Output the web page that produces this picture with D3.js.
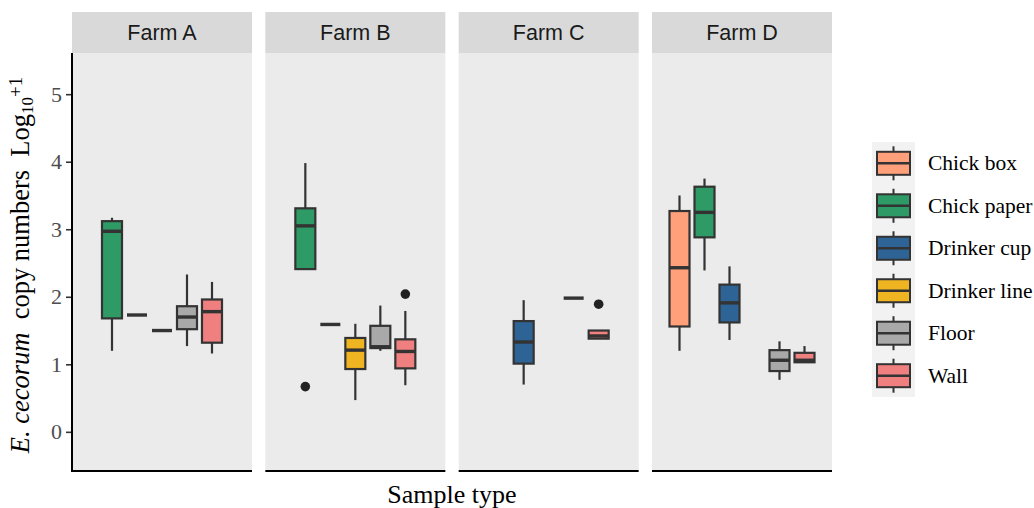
<!DOCTYPE html>
<html>
<head>
<meta charset="utf-8">
<script src="https://cdn.jsdelivr.net/npm/d3@7"></script>
<style>
  body { margin: 0; background: #fff; }
</style>
</head>
<body>
<div id="chart"></div>
<script>
var w = 1034;
var h = 508;

// facets and sample types
const farms = ["Farm A", "Farm B", "Farm C", "Farm D"];
const sampleTypes = ["Chick box", "Chick paper", "Drinker cup", "Drinker line", "Floor", "Wall"];
const typeColours = ["#FFA07A", "#2E9B66", "#2D6495", "#EEB422", "#A9A9A9", "#F08080"];

// dodge slots present in each farm
const slotsA = ["Chick paper", "Drinker cup", "Drinker line", "Floor", "Wall"];
const slotsB = ["Chick paper", "Drinker cup", "Drinker line", "Floor", "Wall"];
const slotsC = ["Chick paper", "Drinker cup", "Drinker line", "Floor", "Wall"];
const slotsD = ["Chick box", "Chick paper", "Drinker cup", "Drinker line", "Floor", "Wall"];

// box stats: [type, lower whisker, q1, median, q3, upper whisker]
const farmA = [
    ["Chick paper", 1.20, 1.68, 2.97, 3.12, 3.17],
    ["Drinker cup", 1.73, 1.73, 1.73, 1.73, 1.73],
    ["Drinker line", 1.50, 1.50, 1.50, 1.50, 1.50],
    ["Floor", 1.27, 1.52, 1.70, 1.86, 2.33],
    ["Wall", 1.16, 1.32, 1.78, 1.96, 2.22]
];
const farmB = [
    ["Chick paper", 2.41, 2.41, 3.05, 3.31, 3.98],
    ["Drinker cup", 1.59, 1.59, 1.59, 1.59, 1.59],
    ["Drinker line", 0.47, 0.93, 1.21, 1.39, 1.60],
    ["Floor", 1.20, 1.24, 1.26, 1.57, 1.87],
    ["Wall", 0.69, 0.94, 1.19, 1.37, 1.79]
];
const farmC = [
    ["Drinker cup", 0.70, 1.01, 1.33, 1.64, 1.95],
    ["Floor", 1.98, 1.98, 1.98, 1.98, 1.98],
    ["Wall", 1.38, 1.38, 1.42, 1.50, 1.50]
];
const farmD = [
    ["Chick box", 1.20, 1.56, 2.43, 3.27, 3.50],
    ["Chick paper", 2.39, 2.88, 3.25, 3.63, 3.75],
    ["Drinker cup", 1.36, 1.62, 1.91, 2.18, 2.45],
    ["Floor", 0.77, 0.90, 1.06, 1.21, 1.34],
    ["Wall", 1.03, 1.03, 1.06, 1.17, 1.27]
];

// outliers: [farm, type, value]
const outliers = [
    ["Farm B", "Chick paper", 0.67],
    ["Farm B", "Wall", 2.04],
    ["Farm C", "Wall", 1.89]
];

const yTicks = [0, 1, 2, 3, 4, 5];

const farmStats = { "Farm A": farmA, "Farm B": farmB, "Farm C": farmC, "Farm D": farmD };
const farmSlots = { "Farm A": slotsA, "Farm B": slotsB, "Farm C": slotsC, "Farm D": slotsD };

const colour = d3.scaleOrdinal().domain(sampleTypes).range(typeColours);

const svg = d3.select("#chart").append("svg").attr("width", w).attr("height", h);

const serif = "Liberation Serif, Times New Roman, serif";
const panelTop = 53, panelBottom = 471;
const stripTop = 12;

const xPanel = d3.scaleBand()
    .domain(farms)
    .range([72, 832])
    .paddingInner(0.069);

const y = d3.scaleLinear()
    .domain([-0.58, 5.61])
    .range([panelBottom, panelTop]);

const boxW = 20;
const slotStep = 25;
const dark = "#333333";

farms.forEach(farm => {
    const x0 = xPanel(farm);
    const bw = xPanel.bandwidth();
    const cx = x0 + bw / 2;
    const slots = farmSlots[farm];
    const n = slots.length;
    const xs = d3.scalePoint()
        .domain(slots)
        .range([cx - (n - 1) * slotStep / 2, cx + (n - 1) * slotStep / 2]);

    const g = svg.append("g").attr("class", "panel");

    // strip
    g.append("rect")
        .attr("x", x0).attr("y", stripTop)
        .attr("width", bw).attr("height", panelTop - stripTop)
        .attr("fill", "#D9D9D9");
    g.append("text")
        .attr("x", cx).attr("y", (stripTop + panelTop) / 2)
        .attr("dy", "0.36em")
        .attr("text-anchor", "middle")
        .style("font-family", "Liberation Sans, Arial, sans-serif")
        .style("font-size", "21.5px")
        .attr("fill", "#1A1A1A")
        .text(farm);

    // panel background
    g.append("rect")
        .attr("x", x0).attr("y", panelTop)
        .attr("width", bw).attr("height", panelBottom - panelTop)
        .attr("fill", "#EBEBEB");

    // boxes
    const boxes = g.selectAll("g.box")
        .data(farmStats[farm])
        .enter()
        .append("g")
        .classed("box", true);

    boxes.append("line")
        .attr("x1", d => xs(d[0])).attr("x2", d => xs(d[0]))
        .attr("y1", d => y(d[5])).attr("y2", d => y(d[4]))
        .attr("stroke", dark).attr("stroke-width", 2.2);
    boxes.append("line")
        .attr("x1", d => xs(d[0])).attr("x2", d => xs(d[0]))
        .attr("y1", d => y(d[2])).attr("y2", d => y(d[1]))
        .attr("stroke", dark).attr("stroke-width", 2.2);
    boxes.append("rect")
        .attr("x", d => xs(d[0]) - boxW / 2)
        .attr("y", d => y(d[4]))
        .attr("width", boxW)
        .attr("height", d => y(d[2]) - y(d[4]))
        .attr("fill", d => colour(d[0]))
        .attr("stroke", dark).attr("stroke-width", 2.2);
    boxes.append("line")
        .attr("x1", d => xs(d[0]) - boxW / 2).attr("x2", d => xs(d[0]) + boxW / 2)
        .attr("y1", d => y(d[3])).attr("y2", d => y(d[3]))
        .attr("stroke", dark).attr("stroke-width", 3.4);

    g.selectAll("circle.outlier")
        .data(outliers.filter(o => o[0] === farm))
        .enter()
        .append("circle")
        .attr("cx", d => xs(d[1]))
        .attr("cy", d => y(d[2]))
        .attr("r", 4.8)
        .attr("fill", "#222");

    // bottom axis line
    g.append("line")
        .attr("x1", x0).attr("x2", x0 + bw)
        .attr("y1", panelBottom).attr("y2", panelBottom)
        .attr("stroke", "#000").attr("stroke-width", 2);
});

// left axis
const yAxis = d3.axisLeft(y).tickValues(yTicks).tickFormat(d3.format("d")).tickSize(6).tickPadding(4);
const yg = svg.append("g")
    .attr("transform", "translate(72,0)")
    .call(yAxis);
yg.select(".domain").remove();
yg.selectAll(".tick line").attr("stroke", dark).attr("stroke-width", 1.6);
yg.selectAll(".tick text")
    .style("font-family", serif)
    .style("font-size", "22px")
    .attr("fill", "#4D4D4D");
svg.append("line")
    .attr("x1", 72).attr("x2", 72)
    .attr("y1", panelTop).attr("y2", panelBottom + 1)
    .attr("stroke", "#000").attr("stroke-width", 2);

// y axis title
const yTitle = svg.append("text")
    .attr("transform", "translate(29," + 265 + ") rotate(-90)")
    .attr("text-anchor", "middle")
    .style("font-family", serif)
    .style("font-size", "26.5px")
    .attr("fill", "#000");
yTitle.append("tspan").style("font-style", "italic").text("E. cecorum");
yTitle.append("tspan").text("\u00a0\u00a0copy numbers\u00a0\u00a0Log");
yTitle.append("tspan").style("font-size", "17px").attr("dy", 4).text("10");
yTitle.append("tspan").style("font-size", "19px").attr("dy", -11).text("+1");

// x axis title
svg.append("text")
    .attr("x", 452).attr("y", 503)
    .attr("text-anchor", "middle")
    .style("font-family", serif)
    .style("font-size", "26px")
    .attr("fill", "#000")
    .text("Sample type");

// legend
const legY = d3.scalePoint()
    .domain(sampleTypes)
    .range([163.3, 375.7]);

const legend = svg.append("g").attr("class", "legend");
legend.append("rect")
    .attr("x", 872).attr("y", 142)
    .attr("width", 43).attr("height", 255)
    .attr("fill", "#F2F2F2");

const keys = legend.selectAll("g.key")
    .data(sampleTypes)
    .enter()
    .append("g")
    .classed("key", true)
    .attr("transform", d => "translate(893.5," + legY(d) + ")");

keys.append("line")
    .attr("x1", 0).attr("x2", 0)
    .attr("y1", -17).attr("y2", 17)
    .attr("stroke", dark).attr("stroke-width", 2);
keys.append("rect")
    .attr("x", -16.5).attr("y", -11.5)
    .attr("width", 33).attr("height", 23)
    .attr("fill", d => colour(d))
    .attr("stroke", dark).attr("stroke-width", 2);
keys.append("line")
    .attr("x1", -16.5).attr("x2", 16.5)
    .attr("y1", 0).attr("y2", 0)
    .attr("stroke", dark).attr("stroke-width", 2.4);
keys.append("text")
    .attr("x", 34.5).attr("y", 0)
    .attr("dy", "0.33em")
    .style("font-family", serif)
    .style("font-size", "21.5px")
    .attr("fill", "#000")
    .text(d => d);
</script>
</body>
</html>
